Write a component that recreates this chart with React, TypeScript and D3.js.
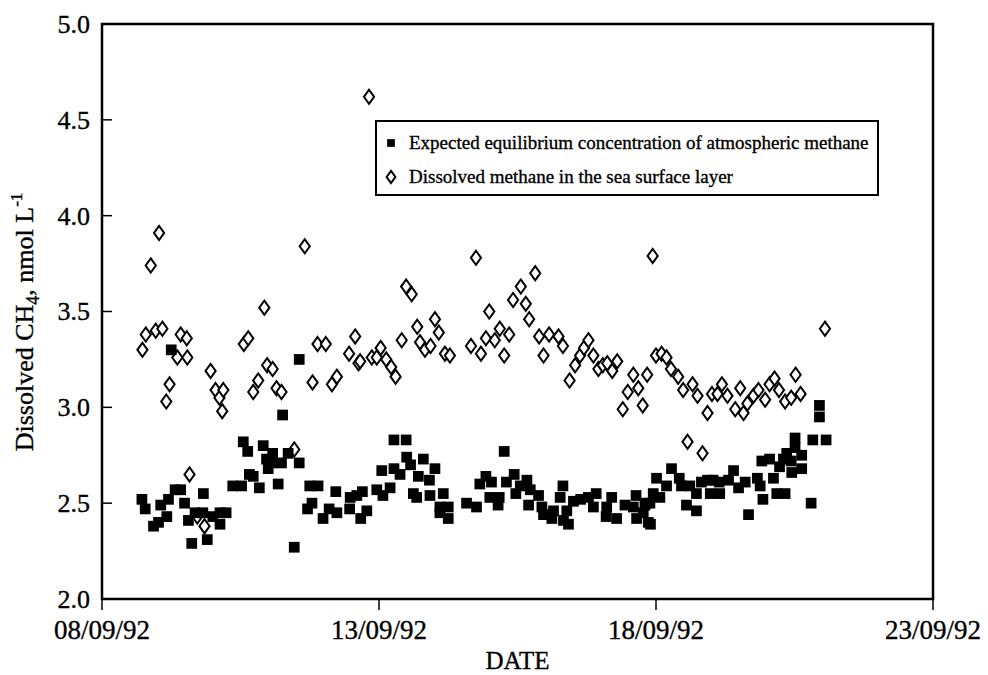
import React from 'react';
import * as d3 from 'd3';

// day of September 1992 (decimal) and concentration, nmol/L
const equilDays = [
  8.72, 8.78, 8.93, 9.02, 9.06, 9.17, 9.20, 9.25, 9.32, 9.42, 9.49, 9.56, 9.62, 9.68, 9.83, 9.82, 9.90,
  10.00, 10.13, 10.13, 10.24, 10.36, 10.52, 10.55, 10.63, 10.66, 10.73, 10.84, 10.91, 10.97, 11.00,
  11.06, 11.08, 11.18, 11.24, 11.26, 11.36, 11.47, 11.56, 11.56, 11.71, 11.75, 11.79, 11.90, 11.99,
  12.10, 12.22, 12.24, 12.47, 12.48, 12.60, 12.67, 12.70, 12.78, 12.96, 13.05, 13.07, 13.20, 13.27,
  13.27, 13.38, 13.49, 13.50, 13.57, 13.62, 13.68, 13.71, 13.80, 13.91, 13.92, 14.01, 14.10, 14.10,
  14.16, 14.25, 14.25, 14.58, 14.76, 14.82, 14.93, 15.00, 15.03, 15.15, 15.17, 15.26, 15.30, 15.44,
  15.47, 15.55, 15.67, 15.70, 15.73, 15.88, 15.94, 15.97, 16.12, 16.15, 16.27, 16.32, 16.33, 16.39,
  16.42, 16.51, 16.64, 16.78, 16.87, 16.92, 17.10, 17.11, 17.20, 17.29, 17.44, 17.59, 17.64, 17.65,
  17.77, 17.80, 17.82, 17.86, 17.89, 17.90, 17.95, 18.01, 18.07, 18.19, 18.28, 18.42, 18.46, 18.55,
  18.61, 18.73, 18.73, 18.82, 18.93, 18.98, 19.03, 19.14, 19.15, 19.31, 19.40, 19.49, 19.61, 19.67,
  19.83, 19.88, 19.91, 19.93, 20.05, 20.12, 20.18, 20.23, 20.30, 20.33, 20.36, 20.44, 20.45, 20.51,
  20.51, 20.63, 20.63, 20.80, 20.83, 20.95, 20.95, 21.07,
];
const equilValues = [
  2.52, 2.47, 2.38, 2.40, 2.49, 2.43, 2.52, 3.30, 2.57, 2.57, 2.50, 2.41, 2.29, 2.45, 2.55, 2.45, 2.31,
  2.43, 2.45, 2.39, 2.45, 2.59, 2.59, 2.82, 2.77, 2.65, 2.64, 2.58, 2.80, 2.73, 2.68,
  2.71, 2.76, 2.60, 2.71, 2.96, 2.76, 2.27, 2.71, 3.25, 2.47, 2.59, 2.50, 2.59, 2.42,
  2.47, 2.56, 2.45, 2.47, 2.53, 2.54, 2.42, 2.56, 2.46, 2.57, 2.67, 2.54, 2.58, 2.83,
  2.68, 2.65, 2.83, 2.74, 2.70, 2.55, 2.53, 2.64, 2.73, 2.62, 2.54, 2.68, 2.48, 2.45,
  2.55, 2.48, 2.42, 2.50, 2.48, 2.60, 2.64, 2.53, 2.61, 2.49, 2.53, 2.77, 2.61, 2.65,
  2.55, 2.59, 2.62, 2.49, 2.57, 2.54, 2.48, 2.44, 2.42, 2.46, 2.53, 2.59, 2.41, 2.46,
  2.39, 2.51, 2.52, 2.53, 2.48, 2.55, 2.43, 2.48, 2.53, 2.42, 2.49, 2.48, 2.54, 2.42,
  2.45, 2.49, 2.50, 2.40, 2.50, 2.39, 2.55, 2.63, 2.53, 2.59, 2.68, 2.63, 2.59, 2.49,
  2.59, 2.55, 2.46, 2.61, 2.62, 2.55, 2.62, 2.61, 2.55, 2.62, 2.67, 2.58, 2.61, 2.44,
  2.63, 2.59, 2.72, 2.52, 2.73, 2.63, 2.55, 2.69, 2.73, 2.55, 2.76, 2.72, 2.66, 2.84,
  2.79, 2.75, 2.68, 2.50, 2.83, 3.01, 2.95, 2.83,
];

const seaDays = [
  8.73, 8.79, 8.88, 8.97, 9.03, 9.09, 9.16, 9.22, 9.36, 9.42, 9.53, 9.54, 9.58, 9.72, 9.85, 9.96,
  10.05, 10.12, 10.17, 10.19, 10.56, 10.64, 10.73, 10.82, 10.93, 10.98, 11.08, 11.15, 11.24, 11.47,
  11.66, 11.80, 11.89, 12.04, 12.15, 12.24, 12.46, 12.57, 12.63, 12.66, 12.82, 12.87, 12.96, 13.03,
  13.13, 13.22, 13.30, 13.41, 13.49, 13.59, 13.69, 13.74, 13.83, 13.93, 14.01, 14.08, 14.19, 14.28,
  14.66, 14.75, 14.84, 14.93, 14.99, 15.09, 15.18, 15.26, 15.35, 15.42, 15.56, 15.65, 15.71, 15.82,
  15.89, 15.97, 16.07, 16.24, 16.32, 16.44, 16.54, 16.63, 16.70, 16.78, 16.87, 16.96, 17.04, 17.12,
  17.21, 17.30, 17.40, 17.49, 17.59, 17.68, 17.76, 17.84, 17.94, 18.00, 18.10, 18.19, 18.27, 18.40,
  18.49, 18.57, 18.66, 18.75, 18.84, 18.93, 19.01, 19.11, 19.19, 19.29, 19.43, 19.52, 19.58, 19.65,
  19.76, 19.85, 19.97, 20.05, 20.14, 20.22, 20.33, 20.44, 20.52, 20.61, 21.05,
];
const seaValues = [
  3.30, 3.38, 3.74, 3.40, 3.91, 3.41, 3.03, 3.12, 3.26, 3.38, 3.36, 3.26, 2.65, 2.43, 2.38, 3.19,
  3.09, 3.05, 2.98, 3.09, 3.33, 3.36, 3.08, 3.14, 3.52, 3.22, 3.20, 3.10, 3.08, 2.78,
  3.84, 3.13, 3.33, 3.33, 3.12, 3.16, 3.28, 3.37, 3.23, 3.24, 4.62, 3.26, 3.26, 3.31,
  3.25, 3.21, 3.16, 3.35, 3.63, 3.59, 3.42, 3.34, 3.30, 3.32, 3.46, 3.39, 3.28, 3.27,
  3.32, 3.78, 3.28, 3.36, 3.50, 3.35, 3.41, 3.27, 3.38, 3.56, 3.63, 3.54, 3.46, 3.70,
  3.37, 3.27, 3.38, 3.37, 3.32, 3.14, 3.22, 3.27, 3.31, 3.35, 3.27, 3.20, 3.22, 3.23,
  3.19, 3.24, 2.99, 3.08, 3.17, 3.10, 3.01, 3.17, 3.79, 3.27, 3.28, 3.26, 3.20, 3.16,
  3.09, 2.82, 3.12, 3.06, 2.76, 2.97, 3.07, 3.07, 3.12, 3.06, 2.99, 3.10, 2.97, 3.02,
  3.06, 3.09, 3.04, 3.12, 3.15, 3.09, 3.03, 3.05, 3.17, 3.07, 3.41,
];

const xTickDays = [8, 13, 18, 23];
const xTickLabels = ['08/09/92', '13/09/92', '18/09/92', '23/09/92'];
const yTicks = [2.0, 2.5, 3.0, 3.5, 4.0, 4.5, 5.0];

const legendLabels = [
  'Expected equilibrium concentration of atmospheric methane',
  'Dissolved methane in the sea surface layer',
];

const W = 988;
const H = 675;
const m = { left: 102, right: 55, top: 24, bottom: 76 };
const font = '"Liberation Serif", "Times New Roman", serif';
const ink = { stroke: '#000', strokeWidth: 0.35 }; // scanned print looks a bit heavier

// tall rhombus, like the open diamonds of the original
const tallDiamond = {
  draw(ctx: any, size: number) {
    const h = Math.sqrt(size);
    const w = h * 0.72;
    ctx.moveTo(0, -h / 2);
    ctx.lineTo(w / 2, 0);
    ctx.lineTo(0, h / 2);
    ctx.lineTo(-w / 2, 0);
    ctx.closePath();
  },
};

export default function App() {
  const x = d3.scaleLinear().domain([8, 23]).range([m.left, W - m.right]);
  const y = d3.scaleLinear().domain([2, 5]).range([H - m.bottom, m.top]);
  const x0 = x.range()[0], x1 = x.range()[1];
  const y0 = y.range()[0], y1 = y.range()[1];

  const square = d3.symbol(d3.symbolSquare, 115)();
  const diamond = d3.symbol(tallDiamond as any, 200)();
  const legSquare = d3.symbol(d3.symbolSquare, 60)();
  const legDiamond = d3.symbol(tallDiamond as any, 150)();

  return (
    <svg width={W} height={H} style={{ position: 'absolute', left: 0, top: 0, background: '#fff' }}
      fontFamily={font}>
      <rect x={0} y={0} width={W} height={H} fill="#fff" />

      {/* y ticks (inward) */}
      {yTicks.map((t) => (
        <g key={t}>
          <line x1={x0} x2={x0 + 10} y1={y(t)} y2={y(t)} stroke="#000" strokeWidth={1.5} />
          <text x={x0 - 12} y={y(t)} dy="0.34em" textAnchor="end" fontSize={26} {...ink}>
            {t.toFixed(1)}
          </text>
        </g>
      ))}

      {/* x ticks (outward) */}
      {xTickDays.map((d, i) => (
        <g key={d}>
          <line x1={x(d)} x2={x(d)} y1={y0} y2={y0 + 11} stroke="#000" strokeWidth={1.5} />
          <text x={x(d)} y={y0 + 40} textAnchor="middle" fontSize={27} {...ink}>
            {xTickLabels[i]}
          </text>
        </g>
      ))}

      {/* points */}
      {seaDays.map((d, i) => (
        <path key={'s' + i} d={diamond} transform={`translate(${x(d)},${y(seaValues[i])})`}
          fill="#fff" stroke="#000" strokeWidth={2} />
      ))}
      {equilDays.map((d, i) => (
        <path key={'e' + i} d={square} transform={`translate(${x(d)},${y(equilValues[i])})`}
          fill="#000" />
      ))}

      {/* frame */}
      <rect x={x0} y={y1} width={x1 - x0} height={y0 - y1} fill="none" stroke="#000" strokeWidth={2.5} />

      {/* legend */}
      <g>
        <rect x={376} y={121} width={502} height={74} fill="#fff" stroke="#000" strokeWidth={2} />
        <path d={legSquare} transform="translate(391,143)" fill="#000" />
        <text x={409} y={143} dy="0.34em" fontSize={19} {...ink}>{legendLabels[0]}</text>
        <path d={legDiamond} transform="translate(391,177)" fill="#fff" stroke="#000" strokeWidth={2} />
        <text x={409} y={177} dy="0.34em" fontSize={19} {...ink}>{legendLabels[1]}</text>
      </g>

      {/* axis titles */}
      <text x={(x0 + x1) / 2} y={669} textAnchor="middle" fontSize={25} {...ink}>DATE</text>
      <text transform="translate(33,322) rotate(-90)" textAnchor="middle" fontSize={26} {...ink}>
        Dissolved CH<tspan fontSize={18} dy={6}>4</tspan>
        <tspan dy={-6}>, nmol L</tspan>
        <tspan fontSize={17} dy={-11}>-1</tspan>
      </text>
    </svg>
  );
}
